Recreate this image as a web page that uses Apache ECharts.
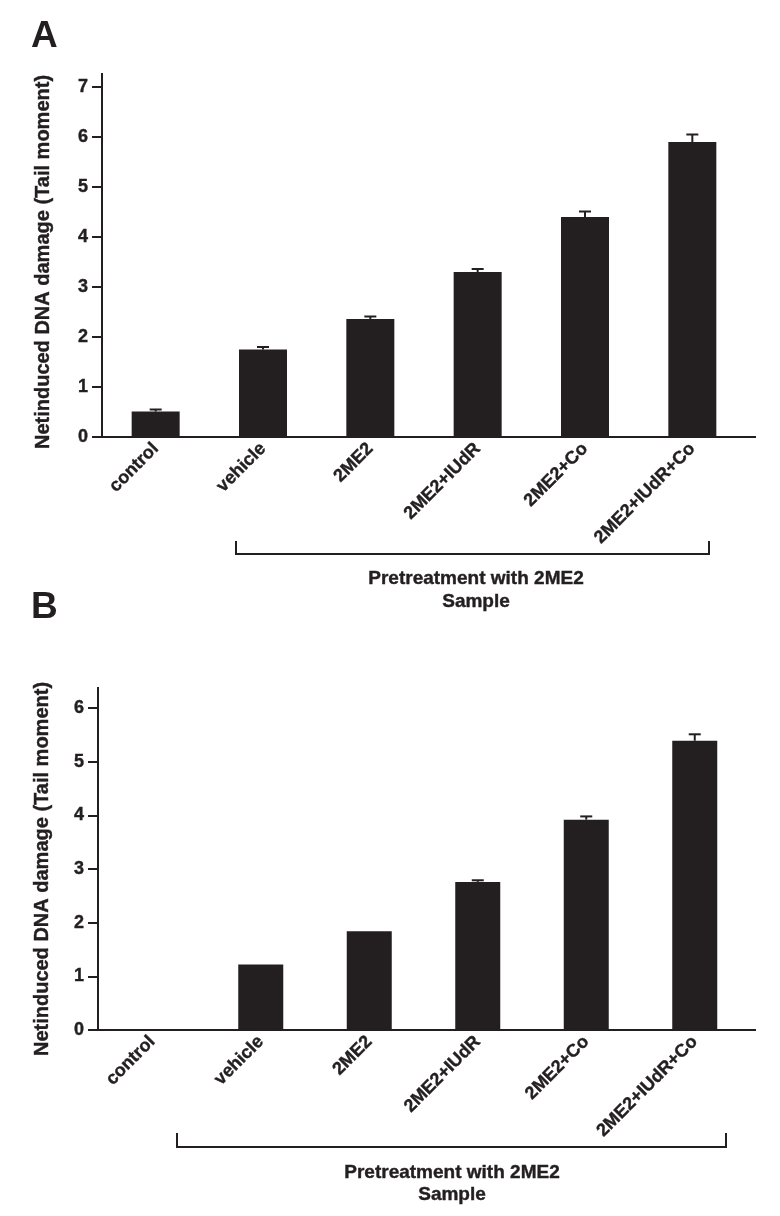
<!DOCTYPE html>
<html>
<head>
<meta charset="utf-8">
<title>Net induced DNA damage</title>
<script src="https://cdn.jsdelivr.net/npm/echarts@6/dist/echarts.min.js"></script>
<style>
  html, body { margin: 0; padding: 0; background: #fff; }
  #main { width: 780px; height: 1216px; }
</style>
</head>
<body>
<div id="main"></div>
<script>
// categories (same for both panels)
var samples = ['control', 'vehicle', '2ME2', '2ME2+IUdR', '2ME2+Co', '2ME2+IUdR+Co'];

// panel A values + upper error
var damageA = [0.51, 1.75, 2.36, 3.30, 4.40, 5.90];
var errA    = [0.04, 0.05, 0.05, 0.06, 0.11, 0.15];

// panel B values + upper error
var damageB = [0, 1.22, 1.84, 2.76, 3.92, 5.39];
var errB    = [0, 0, 0, 0.03, 0.06, 0.12];

var yTitle = 'Netinduced DNA damage (Tail moment)';
var ink = '#231f20';
var font = "'Liberation Sans', Arial, sans-serif";

var myChart = echarts.init(document.getElementById('main'));

function errItem(params, api) {
    var v = api.value(1), e = api.value(2);
    if (!e) return null;
    var p0 = api.coord([api.value(0), v]);
    var p1 = api.coord([api.value(0), v + e]);
    var style = { stroke: ink, lineWidth: 2 };
    return {
        type: 'group',
        children: [
            { type: 'line', shape: { x1: p0[0], y1: p0[1], x2: p1[0], y2: p1[1] }, style: style },
            { type: 'line', shape: { x1: p1[0] - 6, y1: p1[1], x2: p1[0] + 6, y2: p1[1] }, style: style }
        ]
    };
}

function errData(vals, errs) {
    var out = [];
    for (var i = 0; i < vals.length; i++) out.push([i, vals[i], errs[i]]);
    return out;
}

function xAxisFor(gi) {
    return {
        type: 'category', gridIndex: gi, data: samples,
        axisLine: { lineStyle: { color: ink, width: 2 } },
        axisTick: { length: 8, lineStyle: { color: ink, width: 2 } },
        axisLabel: { rotate: 45, margin: 9, color: ink, fontSize: 18, fontWeight: 'bold', fontFamily: font,
                     interval: 0, textBorderColor: ink, textBorderWidth: 0.4 }
    };
}

function yAxisFor(gi, max, gap) {
    return {
        type: 'value', gridIndex: gi, min: 0, max: max, interval: 1,
        name: yTitle, nameLocation: 'middle', nameGap: gap,
        nameTextStyle: { color: ink, fontSize: 20, fontWeight: 'bold', fontFamily: font, textBorderColor: ink, textBorderWidth: 0.4 },
        splitLine: { show: false },
        axisLine: { show: true, lineStyle: { color: ink, width: 2 } },
        axisTick: { show: true, length: 10, lineStyle: { color: ink, width: 2 } },
        axisLabel: { margin: 14, color: ink, fontSize: 18, fontWeight: 'bold', fontFamily: font, textBorderColor: ink, textBorderWidth: 0.4 }
    };
}

function bracket(x1, x2, y, yTop) {
    return {
        type: 'polyline',
        shape: { points: [[x1, yTop], [x1, y], [x2, y], [x2, yTop]] },
        style: { stroke: ink, lineWidth: 2, fill: null }
    };
}

function label(txt, x, y, size) {
    return {
        type: 'text', x: x, y: y,
        style: { text: txt, fill: ink, font: 'bold ' + size + 'px ' + font, textAlign: 'center', textVerticalAlign: 'middle',
                 stroke: ink, lineWidth: 0.4 }
    };
}

function axisExt(x1, y1, x2, y2) {
    return { type: 'line', shape: { x1: x1, y1: y1, x2: x2, y2: y2 }, style: { stroke: ink, lineWidth: 2 } };
}

var option = {
    backgroundColor: '#fff',
    animation: false,
    grid: [
        { left: 102, top: 87, right: 34, bottom: 779 },
        { left: 98, top: 708, right: 31, bottom: 186 }
    ],
    xAxis: [xAxisFor(0), xAxisFor(1)],
    yAxis: [yAxisFor(0, 7, 49), yAxisFor(1, 6, 46)],
    series: [
        { type: 'bar', xAxisIndex: 0, yAxisIndex: 0, data: damageA, barWidth: 48,
          itemStyle: { color: ink } },
        { type: 'custom', xAxisIndex: 0, yAxisIndex: 0, renderItem: errItem, data: errData(damageA, errA), z: 3 },
        { type: 'bar', xAxisIndex: 1, yAxisIndex: 1, data: damageB, barWidth: 45,
          itemStyle: { color: ink } },
        { type: 'custom', xAxisIndex: 1, yAxisIndex: 1, renderItem: errItem, data: errData(damageB, errB), z: 3 }
    ],
    graphic: [
        { type: 'text', x: 31, y: 18, style: { text: 'A', fill: ink, font: 'bold 37px ' + font } },
        { type: 'text', x: 31, y: 589, style: { text: 'B', fill: ink, font: 'bold 37px ' + font } },
        axisExt(102, 73, 102, 87),
        axisExt(746, 437, 756, 437),
        axisExt(98, 687, 98, 708),
        axisExt(749, 1030, 756, 1030),
        bracket(236, 709, 554, 541),
        label('Pretreatment with 2ME2', 476, 579, 19),
        label('Sample', 476, 602, 19),
        bracket(177, 726, 1147, 1133),
        label('Pretreatment with 2ME2', 452, 1173, 19),
        label('Sample', 452, 1195, 19)
    ]
};

myChart.setOption(option);
</script>
</body>
</html>
